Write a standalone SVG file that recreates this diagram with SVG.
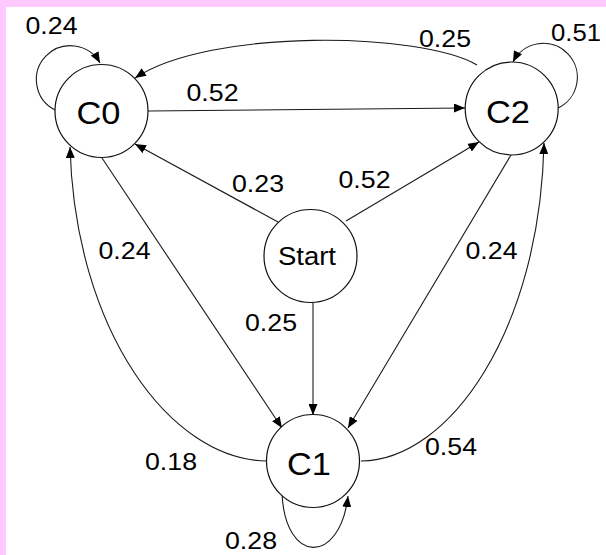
<svg xmlns="http://www.w3.org/2000/svg" width="606" height="555" viewBox="0 0 606 555">
  <style>
    .node circle { fill: #ffffff; stroke: #111111; stroke-width: 1.2; }
    .node text { font-family: "Liberation Sans", Arial, Helvetica, sans-serif; font-size: 32px; fill: #000000; text-anchor: middle; }
    .node.start text { font-size: 25px; }
    .edge { fill: none; stroke: #1a1a1a; stroke-width: 1.1; marker-end: url(#arrow); }
    .label { font-family: "Liberation Sans", Arial, Helvetica, sans-serif; font-size: 24px; fill: #000000; text-anchor: middle; }
  </style>
  <defs>
    <marker id="arrow" markerUnits="userSpaceOnUse" markerWidth="12" markerHeight="9" refX="11" refY="4.5" orient="auto">
      <path d="M0,0 L11,4.5 L0,9 Z" fill="#000000"/>
    </marker>
  </defs>

  <!-- page background and white canvas -->
  <rect x="0" y="0" width="606" height="555" fill="#ffc8ff"/>
  <rect x="6" y="7" width="600" height="548" fill="#ffffff"/>

  <!-- transitions -->
  <g id="edges">
    <!-- self loops -->
    <path class="edge" d="M55,110 A34,34 0 1 1 100,63"/>
    <path class="edge" d="M558,108 A34,34 0 1 0 513,62"/>
    <path class="edge" d="M282,493 C285,565 340,565 348,496"/>
    <!-- C2 -> C0 over the top -->
    <path class="edge" d="M477,65 C420,32 210,28 135,78"/>
    <!-- C0 -> C2 -->
    <path class="edge" d="M148,111 L465,108"/>
    <!-- Start -> C0, C2, C1 -->
    <path class="edge" d="M278,222 L135,144"/>
    <path class="edge" d="M346,221 L479,142"/>
    <path class="edge" d="M313,302 L313,415"/>
    <!-- C0 -> C1, C2 -> C1 -->
    <path class="edge" d="M102,158 L282,428"/>
    <path class="edge" d="M511,155 L348,428"/>
    <!-- C1 -> C0, C1 -> C2 side arcs -->
    <path class="edge" d="M267,461 C170,460 75,330 70,147"/>
    <path class="edge" d="M361,461 C450,460 540,330 544,143"/>
  </g>

  <!-- transition probabilities -->
  <g id="labels">
    <text class="label" x="51.5" y="34" textLength="52" lengthAdjust="spacingAndGlyphs">0.24</text>
    <text class="label" x="445" y="47" textLength="52" lengthAdjust="spacingAndGlyphs">0.25</text>
    <text class="label" x="576" y="41" textLength="50" lengthAdjust="spacingAndGlyphs">0.51</text>
    <text class="label" x="212.5" y="101" textLength="52" lengthAdjust="spacingAndGlyphs">0.52</text>
    <text class="label" x="258" y="192" textLength="52" lengthAdjust="spacingAndGlyphs">0.23</text>
    <text class="label" x="364.5" y="188" textLength="52" lengthAdjust="spacingAndGlyphs">0.52</text>
    <text class="label" x="124.5" y="259" textLength="52" lengthAdjust="spacingAndGlyphs">0.24</text>
    <text class="label" x="491.5" y="259" textLength="52" lengthAdjust="spacingAndGlyphs">0.24</text>
    <text class="label" x="271" y="331" textLength="52" lengthAdjust="spacingAndGlyphs">0.25</text>
    <text class="label" x="171" y="469.5" textLength="52" lengthAdjust="spacingAndGlyphs">0.18</text>
    <text class="label" x="451" y="455" textLength="52" lengthAdjust="spacingAndGlyphs">0.54</text>
    <text class="label" x="251" y="549" textLength="52" lengthAdjust="spacingAndGlyphs">0.28</text>
  </g>

  <!-- states -->
  <g id="C0" class="node">
    <circle cx="101.5" cy="111" r="46.5"/>
    <text x="98.5" y="123.5" textLength="44" lengthAdjust="spacingAndGlyphs">C0</text>
  </g>
  <g id="C2" class="node">
    <circle cx="511.7" cy="108.5" r="46.5"/>
    <text x="508" y="123" textLength="44" lengthAdjust="spacingAndGlyphs">C2</text>
  </g>
  <g id="Start" class="node start">
    <circle cx="310.5" cy="256" r="46.5"/>
    <text x="307" y="265" textLength="58" lengthAdjust="spacingAndGlyphs">Start</text>
  </g>
  <g id="C1" class="node">
    <circle cx="313" cy="461" r="46.5"/>
    <text x="309" y="475" textLength="44" lengthAdjust="spacingAndGlyphs">C1</text>
  </g>
</svg>
